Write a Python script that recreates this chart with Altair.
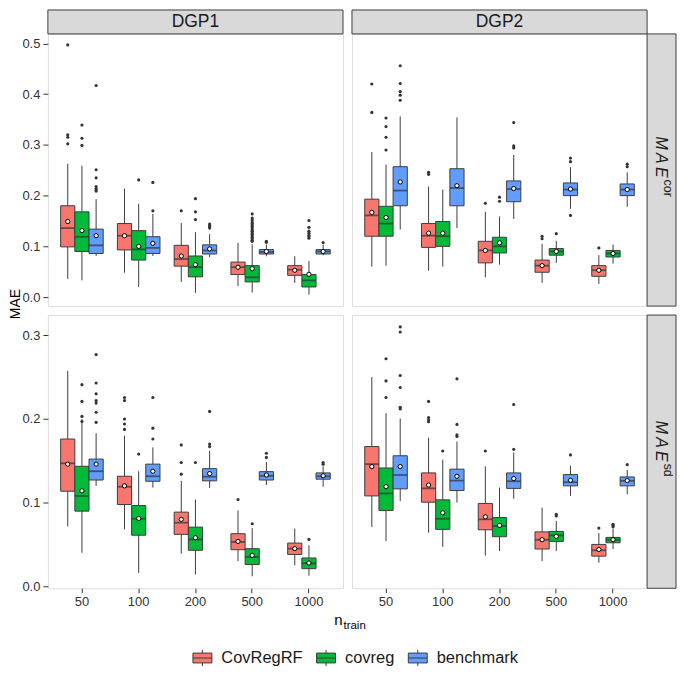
import altair as alt
import pandas as pd

N_TRAIN = ["50", "100", "200", "500", "1000"]
METHODS = ["CovRegRF", "covreg", "benchmark"]
COLORS = ["#F8766D", "#00BA38", "#619CFF"]
STATS = ["lo", "q1", "med", "q3", "hi", "mean"]

D1_COR_RF = [[0.036, 0.099, 0.136, 0.180, 0.263, 0.149],
             [0.048, 0.093, 0.121, 0.145, 0.214, 0.121],
             [0.030, 0.061, 0.075, 0.102, 0.146, 0.081],
             [0.022, 0.0445, 0.059, 0.069, 0.107, 0.059],
             [0.028, 0.043, 0.054, 0.062, 0.0805, 0.053]]
D1_COR_CV = [[0.033, 0.090, 0.119, 0.168, 0.259, 0.131],
             [0.020, 0.073, 0.094, 0.131, 0.184, 0.100],
             [0.0085, 0.040, 0.059, 0.081, 0.128, 0.064],
             [0.009, 0.030, 0.039, 0.062, 0.104, 0.056],
             [0.005, 0.020, 0.033, 0.0446, 0.071, 0.045]]
D1_COR_BM = [[0.081, 0.086, 0.102, 0.134, 0.193, 0.121],
             [0.081, 0.086, 0.097, 0.119, 0.164, 0.106],
             [0.079, 0.085, 0.092, 0.103, 0.124, 0.095],
             [0.0805, 0.085, 0.089, 0.0937, 0.1035, 0.090],
             [0.0825, 0.085, 0.090, 0.0937, 0.1035, 0.090]]
D2_COR_RF = [[0.060, 0.120, 0.161, 0.193, 0.286, 0.167],
             [0.052, 0.098, 0.121, 0.145, 0.218, 0.126],
             [0.039, 0.0675, 0.092, 0.110, 0.168, 0.092],
             [0.028, 0.049, 0.062, 0.073, 0.105, 0.062],
             [0.026, 0.041, 0.053, 0.062, 0.0826, 0.053]]
D2_COR_CV = [[0.062, 0.120, 0.145, 0.179, 0.261, 0.157],
             [0.060, 0.100, 0.120, 0.149, 0.212, 0.126],
             [0.064, 0.087, 0.100, 0.118, 0.159, 0.107],
             [0.0675, 0.0826, 0.090, 0.0957, 0.111, 0.090],
             [0.066, 0.079, 0.086, 0.092, 0.1035, 0.086]]
D2_COR_BM = [[0.133, 0.180, 0.210, 0.257, 0.356, 0.227],
             [0.136, 0.180, 0.215, 0.253, 0.354, 0.2195],
             [0.154, 0.188, 0.213, 0.229, 0.280, 0.214],
             [0.174, 0.200, 0.212, 0.225, 0.256, 0.213],
             [0.178, 0.200, 0.212, 0.223, 0.246, 0.212]]
D1_SD_RF = [[0.0715, 0.1136, 0.147, 0.176, 0.2575, 0.146],
            [0.068, 0.0977, 0.119, 0.1315, 0.180, 0.120],
            [0.039, 0.062, 0.076, 0.0886, 0.126, 0.080],
            [0.030, 0.0437, 0.053, 0.0628, 0.0906, 0.0536],
            [0.025, 0.038, 0.045, 0.0516, 0.069, 0.045]]
D1_SD_CV = [[0.040, 0.0898, 0.108, 0.1434, 0.200, 0.114],
            [0.016, 0.061, 0.0807, 0.0965, 0.1375, 0.081],
            [0.014, 0.043, 0.056, 0.0707, 0.1037, 0.058],
            [0.012, 0.026, 0.035, 0.0449, 0.0695, 0.037],
            [0.0127, 0.021, 0.0274, 0.0338, 0.049, 0.0278]]
D1_SD_BM = [[0.120, 0.127, 0.1375, 0.152, 0.183, 0.146],
            [0.118, 0.1255, 0.1315, 0.146, 0.166, 0.1375],
            [0.1176, 0.126, 0.131, 0.1406, 0.162, 0.1347],
            [0.121, 0.127, 0.132, 0.137, 0.1486, 0.133],
            [0.119, 0.128, 0.1315, 0.1355, 0.1434, 0.132]]
D2_SD_RF = [[0.0707, 0.108, 0.146, 0.167, 0.250, 0.143],
            [0.064, 0.1005, 0.117, 0.1355, 0.1776, 0.121],
            [0.0366, 0.0675, 0.080, 0.099, 0.1434, 0.083],
            [0.030, 0.0445, 0.0556, 0.065, 0.094, 0.0556],
            [0.028, 0.036, 0.043, 0.050, 0.0636, 0.044]]
D2_SD_CV = [[0.054, 0.0906, 0.111, 0.1414, 0.207, 0.119],
            [0.047, 0.068, 0.0807, 0.1033, 0.1514, 0.0878],
            [0.042, 0.0592, 0.072, 0.0822, 0.118, 0.0727],
            [0.042, 0.0536, 0.0608, 0.0656, 0.078, 0.0596],
            [0.0445, 0.052, 0.0556, 0.0584, 0.0687, 0.0556]]
D2_SD_BM = [[0.1017, 0.1164, 0.133, 0.156, 0.2006, 0.143],
            [0.100, 0.1144, 0.1263, 0.140, 0.173, 0.1315],
            [0.1045, 0.117, 0.1255, 0.1355, 0.160, 0.1287],
            [0.108, 0.120, 0.1244, 0.1335, 0.144, 0.1267],
            [0.110, 0.120, 0.126, 0.1307, 0.139, 0.1263]]

O1_COR_RF = [[0.497, 0.320, 0.315, 0.302], [], [0.170], [], []]
O1_COR_CV = [[0.339, 0.313, 0.299], [0.231], [0.194, 0.168, 0.153],
             [0.164, 0.156, 0.152, 0.148, 0.145, 0.142, 0.139, 0.136, 0.133, 0.130,
              0.127, 0.124, 0.121, 0.118, 0.115, 0.112, 0.110],
             [0.151, 0.1375, 0.130, 0.126, 0.122, 0.119, 0.116]]
O1_COR_BM = [[0.417, 0.251, 0.235, 0.218, 0.214, 0.211, 0.209], [0.226, 0.170],
             [0.144, 0.141, 0.138, 0.136], [0.110, 0.108], [0.1075]]
O2_COR_RF = [[0.420, 0.364], [0.246, 0.242], [0.185], [0.120, 0.115], [0.097]]
O2_COR_CV = [[0.353, 0.336, 0.315, 0.290], [], [0.197, 0.189], [0.125], []]
O2_COR_BM = [[0.456, 0.421, 0.405, 0.398, 0.388], [], [0.344, 0.298, 0.294],
             [0.274, 0.267, 0.161], [0.262, 0.257]]
O1_SD_RF = [[], [0.2257, 0.222, 0.200, 0.194, 0.1875], [0.169, 0.148, 0.134], [0.1037], []]
O1_SD_CV = [[0.241, 0.221, 0.203, 0.197], [0.158], [0.148], [0.0747], [0.056]]
O1_SD_BM = [[0.277, 0.243, 0.230, 0.222, 0.219, 0.208, 0.196], [0.2257, 0.189, 0.176],
            [0.209, 0.170, 0.167], [0.159, 0.154], [0.148, 0.146]]
O2_SD_RF = [[], [0.221, 0.2018, 0.1967, 0.199], [0.1617], [], [0.0695]]
O2_SD_CV = [[0.272, 0.2455, 0.2257], [0.1617], [], [0.086, 0.084], [0.074, 0.0725, 0.071]]
O2_SD_BM = [[0.310, 0.304, 0.252, 0.2376, 0.214, 0.212], [0.248, 0.1935, 0.181, 0.179],
            [0.2173, 0.1637], [0.157], [0.1454]]

BOXES = {
    ("DGP1", "cor"): [D1_COR_RF, D1_COR_CV, D1_COR_BM],
    ("DGP2", "cor"): [D2_COR_RF, D2_COR_CV, D2_COR_BM],
    ("DGP1", "sd"): [D1_SD_RF, D1_SD_CV, D1_SD_BM],
    ("DGP2", "sd"): [D2_SD_RF, D2_SD_CV, D2_SD_BM],
}
OUTLIERS = {
    ("DGP1", "cor"): [O1_COR_RF, O1_COR_CV, O1_COR_BM],
    ("DGP2", "cor"): [O2_COR_RF, O2_COR_CV, O2_COR_BM],
    ("DGP1", "sd"): [O1_SD_RF, O1_SD_CV, O1_SD_BM],
    ("DGP2", "sd"): [O2_SD_RF, O2_SD_CV, O2_SD_BM],
}

box_rows, out_rows = [], []
for key, per_method in BOXES.items():
    for method, table in zip(METHODS, per_method):
        for n, s in zip(N_TRAIN, table):
            r = dict(dgp=key[0], metric=key[1], method=method, n=n)
            r.update(dict(zip(STATS, s)))
            box_rows.append(r)
for key, per_method in OUTLIERS.items():
    for method, table in zip(METHODS, per_method):
        for n, vals in zip(N_TRAIN, table):
            for v in vals:
                out_rows.append(dict(dgp=key[0], metric=key[1], method=method, n=n, value=v))
box_df = pd.DataFrame(box_rows)
out_df = pd.DataFrame(out_rows)

FONT = "Liberation Sans"
EDGE = "#3d3d3d"
W = 296
H_TOP, H_BOT = 273, 274
DOM_TOP = [-0.0177, 0.5187]
DOM_BOT = [-0.0024, 0.3242]
STRIP_H = 24
RSTRIP_W = 29

BOX_PATH = "M-1,-0.52H1V0.52H-1Z M-1,0H1 M0,-0.52V-0.85 M0,0.52V0.85"


def panel(dgp, metric, height, domain, ticks, left, bottom, top_strip, right_strip):
    bd = box_df[(box_df.dgp == dgp) & (box_df.metric == metric)]
    od = out_df[(out_df.dgp == dgp) & (out_df.metric == metric)]
    xaxis = alt.Axis(labelAngle=0, labelFontSize=13, labelFont=FONT, labelColor="#333333",
                     tickColor="#333333", tickSize=4.5, labelPadding=3, domain=False,
                     bandPosition=0.5, title=None) if bottom else None
    x = alt.X("n:N", sort=N_TRAIN, scale=alt.Scale(paddingInner=0, paddingOuter=0.1),
              axis=xaxis, title=None)
    xo = alt.XOffset("method:N", sort=METHODS,
                     scale=alt.Scale(domain=METHODS, paddingInner=0, paddingOuter=0.5))
    ysc = alt.Scale(domain=domain, nice=False, zero=False)
    yaxis = alt.Axis(values=ticks, format=".1f", labelFontSize=13, labelFont=FONT,
                     labelColor="#333333", tickColor="#333333", tickSize=5, labelPadding=3,
                     domain=False, grid=False, title=None) if left else None

    def Y(field):
        return alt.Y(field, scale=ysc, axis=yaxis, title=None)

    base = alt.Chart(bd)
    whisk = base.mark_rule(color=EDGE, strokeWidth=1).encode(x=x, xOffset=xo, y=Y("lo:Q"), y2="hi:Q")
    bars = base.mark_bar(stroke=EDGE, strokeWidth=1, opacity=1).encode(
        x=x, xOffset=xo, y=Y("q1:Q"), y2="q3:Q",
        color=alt.Color("method:N", sort=METHODS,
                        scale=alt.Scale(domain=METHODS, range=COLORS),
                        legend=alt.Legend(title=None, orient="none", direction="horizontal",
                                          legendX=145, legendY=615.5,
                                          symbolType=BOX_PATH, symbolSize=361,
                                          symbolStrokeColor=EDGE, symbolStrokeWidth=1,
                                          symbolOpacity=1,
                                          labelFont=FONT, labelFontSize=16.5,
                                          labelColor="#1a1a1a", labelOffset=9,
                                          columnPadding=11)))
    med = base.mark_tick(color="#333333", thickness=1.8, size=14).encode(x=x, xOffset=xo, y=Y("med:Q"))
    outl = alt.Chart(od).mark_circle(color="#333333", size=10, opacity=1).encode(
        x=x, xOffset=xo, y=Y("value:Q"))
    mean = base.mark_point(shape="circle", filled=True, fill="white", stroke="black",
                           strokeWidth=1, size=18, opacity=1).encode(x=x, xOffset=xo, y=Y("mean:Q"))
    layers = [whisk, bars, med, outl, mean]

    if top_strip:
        sdf = pd.DataFrame({"label": [dgp]})
        layers.append(alt.Chart(sdf).mark_rect(fill="#D9D9D9", stroke=EDGE, strokeWidth=1).encode(
            x=alt.value(0), x2=alt.value(W), y=alt.value(-STRIP_H), y2=alt.value(0)))
        layers.append(alt.Chart(sdf).mark_text(font=FONT, fontSize=17.5, color="#1a1a1a",
                                               baseline="middle").encode(
            x=alt.value(W / 2), y=alt.value(-STRIP_H / 2), text="label:N"))
    if right_strip:
        rdf = pd.DataFrame({"main": ["M\u2009A\u2009E"], "sup": [metric]})
        layers.append(alt.Chart(rdf).mark_rect(fill="#D9D9D9", stroke=EDGE, strokeWidth=1).encode(
            x=alt.value(W), x2=alt.value(W + RSTRIP_W), y=alt.value(0), y2=alt.value(height)))
        top0 = 103 if metric == "cor" else 106
        layers.append(alt.Chart(rdf).mark_text(font=FONT, fontSize=16, fontStyle="italic",
                                               color="#1a1a1a", angle=90, align="left",
                                               baseline="middle").encode(
            x=alt.value(W + 14), y=alt.value(top0), text="main:N"))
        layers.append(alt.Chart(rdf).mark_text(font=FONT, fontSize=12.5, color="#1a1a1a",
                                               angle=90, align="left", baseline="middle").encode(
            x=alt.value(W + 20.5), y=alt.value(top0 + 43), text="sup:N"))
    if left and top_strip:
        tdf = pd.DataFrame({"t": ["MAE"]})
        layers.append(alt.Chart(tdf).mark_text(font=FONT, fontSize=14, color="black", angle=270,
                                               align="center", baseline="top").encode(
            x=alt.value(-39), y=alt.value(271), text="t:N"))
    if left and bottom:
        xdf = pd.DataFrame({"n": ["n"], "s": ["train"]})
        layers.append(alt.Chart(xdf).mark_text(font=FONT, fontSize=15, color="black",
                                               align="right", baseline="alphabetic").encode(
            x=alt.value(W - 0.5), y=alt.value(311), text="n:N"))
        layers.append(alt.Chart(xdf).mark_text(font=FONT, fontSize=11.5, color="black",
                                               align="left", baseline="alphabetic").encode(
            x=alt.value(W + 0.5), y=alt.value(315), text="s:N"))
    return alt.layer(*layers).properties(width=W, height=height)


TICKS_TOP = [0.0, 0.1, 0.2, 0.3, 0.4, 0.5]
TICKS_BOT = [0.0, 0.1, 0.2, 0.3]

tl = panel("DGP1", "cor", H_TOP, DOM_TOP, TICKS_TOP, True, False, True, False)
tr = panel("DGP2", "cor", H_TOP, DOM_TOP, TICKS_TOP, False, False, True, True)
bl = panel("DGP1", "sd", H_BOT, DOM_BOT, TICKS_BOT, True, True, False, False)
br = panel("DGP2", "sd", H_BOT, DOM_BOT, TICKS_BOT, False, True, False, True)

chart = alt.concat(tl, tr, bl, br, columns=2, spacing=9, bounds="flush").properties(
    padding=0
).configure_view(stroke=EDGE, strokeWidth=1, fill="white").configure(background="white")

chart.save("out.html", embed_options={"renderer": "svg", "actions": False})
